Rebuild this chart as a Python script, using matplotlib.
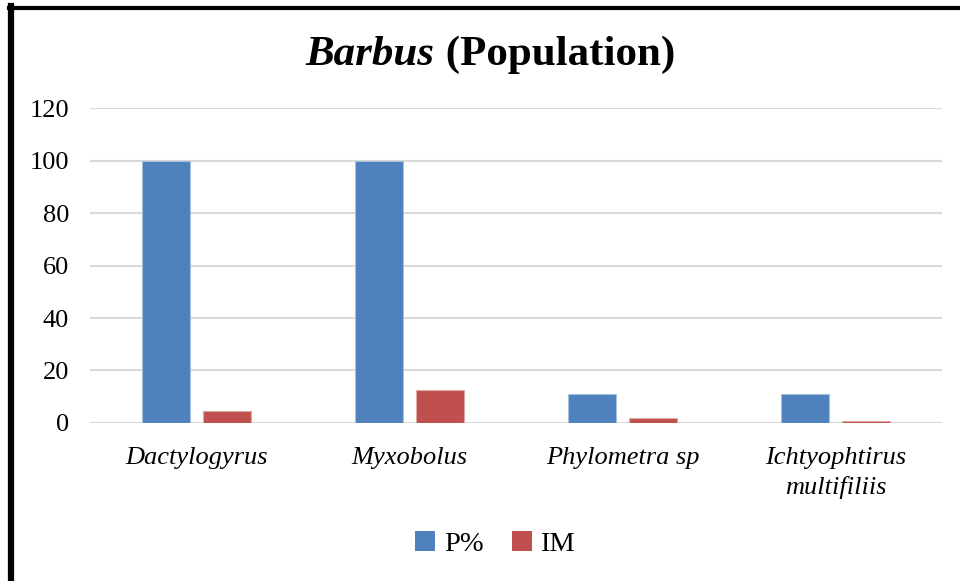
import matplotlib
matplotlib.use('Agg')
import matplotlib.pyplot as plt
from matplotlib.lines import Line2D
from matplotlib.patches import Patch
import numpy as np

categories = ['Dactylogyrus', 'Myxobolus', 'Phylometra sp', 'Ichtyophtirus\nmultifiliis']
p_values = [100, 100, 11.1, 11.1]
im_values = [4.6, 12.6, 2.0, 0.8]
series_names = ['P%', 'IM']
colors = ['#4F81BD', '#C0504D']

plt.rcParams['font.family'] = ['Liberation Serif', 'DejaVu Serif']

fig = plt.figure(figsize=(9.6, 5.81), dpi=100)
ax = fig.add_axes([0.09375, 0.272, 0.8875, 0.542])

x = np.arange(len(categories))
w = 0.225
ax.bar(x - 0.142, p_values, w, color=colors[0], edgecolor='#A7BFDE', linewidth=0.8, zorder=3)
ax.bar(x + 0.142, im_values, w, color=colors[1], edgecolor='#DFA7A6', linewidth=0.8, zorder=3)

ax.set_xlim(-0.5, len(categories) - 0.5)
ax.set_ylim(0, 120)
ax.set_yticks(range(0, 121, 20))
ax.yaxis.grid(True, color='#D9D9D9', linewidth=1.5, zorder=0)
ax.set_axisbelow(True)
for s in ax.spines.values():
    s.set_visible(False)
ax.tick_params(axis='both', length=0, labelsize=19)
ax.tick_params(axis='y', pad=15)
ax.tick_params(axis='x', pad=17)
ax.set_xticks(x)
ax.set_xticklabels(categories, style='italic', linespacing=1.4)

fig.text(0.453, 0.905, 'Barbus', fontsize=31, fontweight='bold', style='italic',
         ha='right', va='center')
fig.text(0.453, 0.905, ' (Population)', fontsize=31, fontweight='bold',
         ha='left', va='center')

handles = [Patch(facecolor=c, edgecolor='none') for c in colors]
fig.legend(handles, series_names, loc='center', bbox_to_anchor=(0.516, 0.063), ncol=2,
           frameon=False, fontsize=20.5, handlelength=0.7, handleheight=0.7,
           handletextpad=0.3, columnspacing=1.0)

# outer frame (left and top edges)
fig.add_artist(Line2D([0.011, 0.011], [0, 0.99], color='black', linewidth=4.5,
                      transform=fig.transFigure))
fig.add_artist(Line2D([0.009, 1.0], [0.9865, 0.9865], color='black', linewidth=3,
                      transform=fig.transFigure))

fig.savefig('out.png', dpi=100, facecolor='white')
